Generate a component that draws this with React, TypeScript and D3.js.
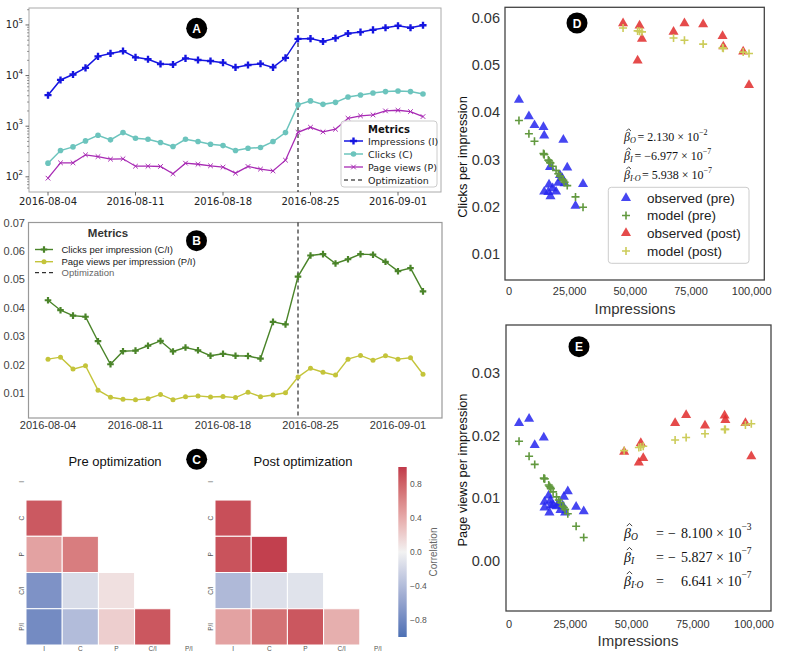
import React from "react";
import * as d3 from "d3";

// ---------------- data ----------------
const dates = [
  "2016-08-04", "2016-08-05", "2016-08-06", "2016-08-07", "2016-08-08", "2016-08-09", "2016-08-10",
  "2016-08-11", "2016-08-12", "2016-08-13", "2016-08-14", "2016-08-15", "2016-08-16", "2016-08-17",
  "2016-08-18", "2016-08-19", "2016-08-20", "2016-08-21", "2016-08-22", "2016-08-23", "2016-08-24",
  "2016-08-25", "2016-08-26", "2016-08-27", "2016-08-28", "2016-08-29", "2016-08-30", "2016-08-31",
  "2016-09-01", "2016-09-02", "2016-09-03",
];
const optimizationDate = "2016-08-24";
const nPre = 20;
const impressions = [4100, 8200, 10500, 14200, 24000, 27400, 30500, 22900, 21000, 16900, 16500, 21900, 20300, 19400, 18000, 14500, 16200, 17100, 14500, 22400, 53000, 53800, 47000, 54800, 67800, 72300, 80000, 88000, 96500, 88300, 98900];
const clicks = [186, 330, 390, 512, 662, 537, 748, 578, 552, 475, 396, 552, 497, 440, 414, 330, 367, 379, 497, 748, 2640, 3160, 2700, 2960, 3780, 4140, 4540, 4820, 4970, 4820, 4330];
const pageViews = [94, 189, 189, 272, 251, 223, 227, 162, 162, 160, 115, 186, 177, 165, 155, 118, 160, 142, 131, 213, 758, 952, 772, 870, 1435, 1600, 1674, 2006, 2065, 1945, 1550];
const ctr = [0.0427, 0.0392, 0.0373, 0.0369, 0.0283, 0.0202, 0.0248, 0.0250, 0.0267, 0.0284, 0.0247, 0.0261, 0.0251, 0.0232, 0.0239, 0.0232, 0.0231, 0.0222, 0.0351, 0.0342, 0.0510, 0.0584, 0.0589, 0.0556, 0.0571, 0.0589, 0.0587, 0.0562, 0.0529, 0.0540, 0.0458];
const pvr = [0.0220, 0.0227, 0.0185, 0.0197, 0.0111, 0.0086, 0.0079, 0.0077, 0.0081, 0.0096, 0.0077, 0.0088, 0.0091, 0.0087, 0.0089, 0.0085, 0.0104, 0.0088, 0.0094, 0.0102, 0.0157, 0.0188, 0.0174, 0.0164, 0.0220, 0.0233, 0.0216, 0.0232, 0.0220, 0.0225, 0.0167];
const ctrModel = [0.0383, 0.0355, 0.0339, 0.0313, 0.0245, 0.0221, 0.0199, 0.0252, 0.0265, 0.0294, 0.0297, 0.0259, 0.0270, 0.0277, 0.0286, 0.0311, 0.0299, 0.0293, 0.0311, 0.0256, 0.0573, 0.0572, 0.0579, 0.0571, 0.0558, 0.0553, 0.0545, 0.0537, 0.0528, 0.0536, 0.0525];
const pvrModel = [0.0191, 0.0167, 0.0154, 0.0132, 0.0075, 0.0055, 0.0037, 0.0082, 0.0093, 0.0117, 0.0119, 0.0087, 0.0097, 0.0102, 0.0110, 0.0131, 0.0121, 0.0115, 0.0131, 0.0085, 0.0181, 0.0182, 0.0176, 0.0183, 0.0193, 0.0197, 0.0203, 0.0210, 0.0217, 0.0210, 0.0219];

const dateTicks = ["2016-08-04", "2016-08-11", "2016-08-18", "2016-08-25", "2016-09-01"];
const logTickExps = [2, 3, 4, 5];
const rateTicksB = [0.01, 0.02, 0.03, 0.04, 0.05, 0.06, 0.07];
const rateTicksD = [0.01, 0.02, 0.03, 0.04, 0.05, 0.06];
const rateTicksE = [0.0, 0.01, 0.02, 0.03];
const impTicks = [0, 25000, 50000, 75000, 100000];
const corrTicks = [0.8, 0.4, 0.0, -0.4, -0.8];

const metricLabels = ["I", "C", "P", "C/I", "P/I"];
const corrPre: (number | null)[][] = [
  [null, null, null, null, null],
  [0.85, null, null, null, null],
  [0.45, 0.66, null, null, null],
  [-0.72, -0.16, 0.1, null, null],
  [-0.78, -0.4, 0.2, 0.86, null],
];
const corrPost: (number | null)[][] = [
  [null, null, null, null, null],
  [0.9, null, null, null, null],
  [0.88, 0.97, null, null, null],
  [-0.42, -0.13, -0.11, null, null],
  [0.45, 0.72, 0.86, 0.38, null],
];

const legendA = ["Impressions (I)", "Clicks (C)", "Page views (P)", "Optimization"];
const legendB = ["Clicks per impression (C/I)", "Page views per impression (P/I)", "Optimization"];
const legendD = ["observed (pre)", "model (pre)", "observed (post)", "model (post)"];
const coefD = [
  { sub: "O", val: "2.130", exp: "−2" },
  { sub: "I", val: "−6.977", exp: "−7" },
  { sub: "I·O", val: "5.938", exp: "−7" },
];
const coefE = [
  { sub: "O", sign: "−", val: "8.100", exp: "−3" },
  { sub: "I", sign: "−", val: "5.827", exp: "−7" },
  { sub: "I·O", sign: "", val: "6.641", exp: "−7" },
];

// ---------------- helpers ----------------
const fSans = "'Liberation Sans', Arial, Helvetica, sans-serif";
const fDV = "'DejaVu Sans', sans-serif";
const fSerif = "'Liberation Serif', 'DejaVu Serif', serif";
const parse = d3.timeParse("%Y-%m-%d");
const dayMs = 864e5;
const dateObjs = dates.map((d) => parse(d) as Date);
const optDate = parse(optimizationDate) as Date;

function timeScale(r0: number, r1: number) {
  return d3
    .scaleTime()
    .domain([
      new Date(dateObjs[0].getTime() - 1.5 * dayMs),
      new Date(dateObjs[dateObjs.length - 1].getTime() + 1.5 * dayMs),
    ])
    .range([r0, r1]);
}

const crossPath = (s: number) => d3.symbol().type(d3.symbolCross).size(s)() as string;
const triPath = (s: number) => d3.symbol().type(d3.symbolTriangle).size(s)() as string;

function Badge({ x, y, label }: { x: number; y: number; label: string }) {
  return (
    <g>
      <circle cx={x} cy={y} r={10.5} fill="#000" />
      <text x={x} y={y + 0.5} fill="#fff" fontFamily={fSans} fontWeight="bold" fontSize={12} textAnchor="middle" dominantBaseline="central">
        {label}
      </text>
    </g>
  );
}

function Plus({ x, y, r, color }: { x: number; y: number; r: number; color: string }) {
  return <path d={`M${x - r},${y}H${x + r}M${x},${y - r}V${y + r}`} stroke={color} strokeWidth={1.6} fill="none" />;
}

function XMark({ x, y, r, color }: { x: number; y: number; r: number; color: string }) {
  return <path d={`M${x - r},${y - r}L${x + r},${y + r}M${x - r},${y + r}L${x + r},${y - r}`} stroke={color} strokeWidth={1} fill="none" />;
}

// beta-hat with subscript; hat drawn as a small chevron
function BetaHat({ x, y, size, sub }: { x: number; y: number; size: number; sub: string }) {
  const k = size / 12;
  return (
    <g>
      <text x={x} y={y} dominantBaseline="central" fontFamily={fSerif} fontSize={size} fill="#111">
        <tspan fontStyle="italic">β</tspan>
        <tspan dy={3 * k} fontSize={size * 0.68} fontStyle="italic">{sub}</tspan>
      </text>
      <path
        d={`M${x + 2.4 * k},${y - 5.9 * k}L${x + 4.7 * k},${y - 8.2 * k}L${x + 7 * k},${y - 5.9 * k}`}
        fill="none"
        stroke="#111"
        strokeWidth={0.8}
      />
    </g>
  );
}

// colours
const cImp = "#1515e0";
const cClk = "#6cc4bd";
const cPV = "#a82ab4";
const cCTR = "#4a8429";
const cPVR = "#c4c43a";
const cBlueTri = "#2626ee";
const cRedTri = "#e12c2c";
const cGreenPlus = "#62993f";
const cYellowPlus = "#cccc5a";

// ---------------- Panel A ----------------
function PanelA() {
  const L = 29, R = 441, T = 8, B = 192;
  const x = timeScale(29.25, 441.75);
  const y = d3.scaleLog().domain([10 ** 1.7, 10 ** 5.335]).range([B, T]);
  const mk = (vals: number[]) =>
    d3.line<number>().x((_, i) => x(dateObjs[i])).y((v) => y(v))(vals) as string;
  const minor: number[] = [];
  for (let e = 1; e <= 5; e++)
    for (let k = 2; k <= 9; k++) {
      const v = k * 10 ** e;
      if (v >= y.domain()[0] && v <= y.domain()[1]) minor.push(v);
    }
  const cp = crossPath(28);
  const lgY = [141, 154, 167, 180];
  return (
    <g fontFamily={fDV}>
      <rect x={L} y={T} width={R - L} height={B - T} fill="none" stroke="#aaa" strokeWidth={1} />
      {minor.map((v) => (
        <line key={v} x1={L} x2={L - 2} y1={y(v)} y2={y(v)} stroke="#555" strokeWidth={0.6} />
      ))}
      {logTickExps.map((e) => (
        <g key={e}>
          <line x1={L} x2={L - 3.5} y1={y(10 ** e)} y2={y(10 ** e)} stroke="#444" strokeWidth={0.8} />
          <text x={23} y={y(10 ** e)} textAnchor="end" dominantBaseline="central" fontSize={10} fill="#222">
            10<tspan dy={-4} fontSize={7}>{e}</tspan>
          </text>
        </g>
      ))}
      {dateTicks.map((d) => {
        const xx = x(parse(d) as Date);
        return (
          <g key={d}>
            <line x1={xx} x2={xx} y1={B} y2={B + 3.5} stroke="#444" strokeWidth={0.8} />
            <text x={xx} y={201} textAnchor="middle" dominantBaseline="central" fontSize={10} fill="#222">
              {d}
            </text>
          </g>
        );
      })}
      <line x1={x(optDate)} x2={x(optDate)} y1={T} y2={B} stroke="#000" strokeWidth={1} strokeDasharray="4 3" />
      <path d={mk(pageViews)} fill="none" stroke={cPV} strokeWidth={1.3} />
      {pageViews.map((v, i) => (
        <XMark key={i} x={x(dateObjs[i])} y={y(v)} r={2.3} color={cPV} />
      ))}
      <path d={mk(clicks)} fill="none" stroke={cClk} strokeWidth={1.5} />
      {clicks.map((v, i) => (
        <circle key={i} cx={x(dateObjs[i])} cy={y(v)} r={2.8} fill={cClk} />
      ))}
      <path d={mk(impressions)} fill="none" stroke={cImp} strokeWidth={1.5} />
      {impressions.map((v, i) => (
        <path key={i} d={cp} transform={`translate(${x(dateObjs[i])},${y(v)})`} fill={cImp} />
      ))}
      {/* legend */}
      <rect x={341} y={121} width={96} height={66} rx={3} fill="#fff" fillOpacity={0.85} stroke="#ccc" />
      <text x={389} y={129} textAnchor="middle" dominantBaseline="central" fontSize={10} fontWeight="bold" fill="#111">
        Metrics
      </text>
      <line x1={344} x2={363} y1={lgY[0]} y2={lgY[0]} stroke={cImp} strokeWidth={1.5} />
      <path d={cp} transform={`translate(353.5,${lgY[0]})`} fill={cImp} />
      <line x1={344} x2={363} y1={lgY[1]} y2={lgY[1]} stroke={cClk} strokeWidth={1.5} />
      <circle cx={353.5} cy={lgY[1]} r={2.8} fill={cClk} />
      <line x1={344} x2={363} y1={lgY[2]} y2={lgY[2]} stroke={cPV} strokeWidth={1.3} />
      <XMark x={353.5} y={lgY[2]} r={2.3} color={cPV} />
      <line x1={344} x2={363} y1={lgY[3]} y2={lgY[3]} stroke="#000" strokeWidth={1} strokeDasharray="4 3" />
      {legendA.map((t, i) => (
        <text key={t} x={368} y={lgY[i]} dominantBaseline="central" fontSize={9.5} fill="#222">
          {t}
        </text>
      ))}
      <Badge x={196.7} y={28.3} label="A" />
    </g>
  );
}

// ---------------- Panel B ----------------
function PanelB() {
  const L = 28.5, R = 442, T = 222.5, B = 418;
  const x = timeScale(29.25, 441.75);
  const y = d3.scaleLinear().domain([0.00133, 0.07]).range([B, T]);
  const mk = (vals: number[]) =>
    d3.line<number>().x((_, i) => x(dateObjs[i])).y((v) => y(v))(vals) as string;
  const cp = crossPath(24);
  const lgY = [249.5, 261.7, 272.7];
  return (
    <g fontFamily={fSans}>
      <rect x={L} y={T} width={R - L} height={B - T} fill="none" stroke="#999" strokeWidth={1.2} />
      {rateTicksB.map((v) => (
        <text key={v} x={25} y={y(v)} textAnchor="end" dominantBaseline="central" fontSize={11} fill="#444">
          {d3.format(".2f")(v)}
        </text>
      ))}
      {dateTicks.map((d) => (
        <text key={d} x={x(parse(d) as Date)} y={425} textAnchor="middle" dominantBaseline="central" fontSize={11} fill="#333">
          {d}
        </text>
      ))}
      <line x1={x(optDate)} x2={x(optDate)} y1={T} y2={B} stroke="#000" strokeWidth={1} strokeDasharray="4 3" />
      <path d={mk(pvr)} fill="none" stroke={cPVR} strokeWidth={1.4} />
      {pvr.map((v, i) => (
        <circle key={i} cx={x(dateObjs[i])} cy={y(v)} r={2.5} fill={cPVR} />
      ))}
      <path d={mk(ctr)} fill="none" stroke={cCTR} strokeWidth={1.4} />
      {ctr.map((v, i) => (
        <path key={i} d={cp} transform={`translate(${x(dateObjs[i])},${y(v)})`} fill={cCTR} />
      ))}
      {/* legend */}
      <text x={108} y={233} textAnchor="middle" dominantBaseline="central" fontSize={11.5} fontWeight="bold" fill="#333">
        Metrics
      </text>
      <line x1={35} x2={53} y1={lgY[0]} y2={lgY[0]} stroke={cCTR} strokeWidth={1.4} />
      <path d={cp} transform={`translate(44,${lgY[0]})`} fill={cCTR} />
      <line x1={35} x2={53} y1={lgY[1]} y2={lgY[1]} stroke={cPVR} strokeWidth={1.4} />
      <circle cx={44} cy={lgY[1]} r={2.5} fill={cPVR} />
      <line x1={35} x2={53} y1={lgY[2]} y2={lgY[2]} stroke="#000" strokeWidth={1} strokeDasharray="4 3" />
      {legendB.map((t, i) => (
        <text key={t} x={61.5} y={lgY[i]} dominantBaseline="central" fontSize={9.5} fill={i === 2 ? "#666" : "#222"}>
          {t}
        </text>
      ))}
      <Badge x={196.5} y={240.7} label="B" />
    </g>
  );
}

// ---------------- Panel C ----------------
const corrColor = d3
  .scaleLinear<string>()
  .domain([-1, 0, 1])
  .range(["#4c70b4", "#f2f2f2", "#c0394a"])
  .interpolate(d3.interpolateLab);

function Heat({ left, data, title, titleX }: { left: number; data: (number | null)[][]; title: string; titleX: number }) {
  const xb = d3.scaleBand<string>().domain(metricLabels).range([left, left + 181]);
  const yb = d3.scaleBand<string>().domain(metricLabels).range([463.8, 645]);
  return (
    <g>
      <text x={titleX} y={461} textAnchor="middle" dominantBaseline="central" fontSize={13} fill="#111">
        {title}
      </text>
      {data.map((row, i) =>
        row.map((v, j) =>
          v === null ? null : (
            <rect
              key={`${i}-${j}`}
              x={xb(metricLabels[j])}
              y={yb(metricLabels[i])}
              width={xb.bandwidth()}
              height={yb.bandwidth()}
              fill={corrColor(v)}
              stroke="#fff"
              strokeWidth={1}
            />
          )
        )
      )}
      {metricLabels.map((m) => (
        <text
          key={"r" + m}
          transform={`translate(${left - 5},${(yb(m) as number) + yb.bandwidth() / 2}) rotate(-90)`}
          textAnchor="middle"
          dominantBaseline="central"
          fontSize={6.5}
          fill="#555"
        >
          {m}
        </text>
      ))}
      {metricLabels.map((m) => (
        <text key={"c" + m} x={(xb(m) as number) + xb.bandwidth() / 2} y={648.5} textAnchor="middle" dominantBaseline="central" fontSize={6.5} fill="#555">
          {m}
        </text>
      ))}
    </g>
  );
}

function PanelC() {
  const cb = d3.scaleLinear().domain([-1, 1]).range([637, 467]);
  const stops = d3.range(0, 1.0001, 0.05);
  return (
    <g fontFamily={fSans}>
      <defs>
        <linearGradient id="cbar" x1="0" y1="1" x2="0" y2="0">
          {stops.map((t) => (
            <stop key={t} offset={t} stopColor={corrColor(-1 + 2 * t)} />
          ))}
        </linearGradient>
      </defs>
      <Heat left={26} data={corrPre} title="Pre  optimization" titleX={115} />
      <Heat left={215} data={corrPost} title="Post optimization" titleX={303} />
      <rect x={398.3} y={cb(1)} width={8.4} height={cb(-1) - cb(1)} fill="url(#cbar)" />
      {corrTicks.map((v) => (
        <text key={v} x={410} y={cb(v)} dominantBaseline="central" fontSize={8.5} fill="#555">
          {v < 0 ? "−" + d3.format(".1f")(-v) : d3.format(".1f")(v)}
        </text>
      ))}
      <text transform={`translate(433,${cb(0)}) rotate(-90)`} textAnchor="middle" dominantBaseline="central" fontSize={10} fill="#666">
        Correlation
      </text>
      <Badge x={196.7} y={459.3} label="C" />
    </g>
  );
}

// ---------------- Panel D ----------------
function PanelD() {
  const L = 505, R = 764.3, T = 7.3, B = 280;
  const x = d3.scaleLinear().domain([-1650, 105200]).range([L, R]);
  const y = d3.scaleLinear().domain([0.00448, 0.0623]).range([B, T]);
  const tp = triPath(44);
  const idx = d3.range(impressions.length);
  const pre = idx.filter((i) => i < nPre);
  const post = idx.filter((i) => i >= nPre);
  const lgY = [198, 215.5, 233, 251];
  const subW: Record<string, number> = { O: 6.5, I: 3.5, "I·O": 11 };
  return (
    <g fontFamily={fSans}>
      <rect x={L} y={T} width={R - L} height={B - T} fill="none" stroke="#444" strokeWidth={1.3} />
      {rateTicksD.map((v) => (
        <text key={v} x={500} y={y(v)} textAnchor="end" dominantBaseline="central" fontSize={14.5} fill="#333">
          {d3.format(".2f")(v)}
        </text>
      ))}
      {impTicks.map((v) => (
        <text key={v} x={x(v)} y={291} textAnchor="middle" dominantBaseline="central" fontSize={11} fill="#333">
          {d3.format(",")(v)}
        </text>
      ))}
      <text x={635} y={308} textAnchor="middle" dominantBaseline="central" fontSize={15} fill="#333">
        Impressions
      </text>
      <text transform={`translate(462,157) rotate(-90)`} textAnchor="middle" dominantBaseline="central" fontSize={12.8} fill="#111">
        Clicks per impression
      </text>
      {pre.map((i) => (
        <path key={"op" + i} d={tp} transform={`translate(${x(impressions[i])},${y(ctr[i])})`} fill={cBlueTri} fillOpacity={0.85} />
      ))}
      {pre.map((i) => (
        <Plus key={"mp" + i} x={x(impressions[i])} y={y(ctrModel[i])} r={4} color={cGreenPlus} />
      ))}
      {post.map((i) => (
        <path key={"oq" + i} d={tp} transform={`translate(${x(impressions[i])},${y(ctr[i])})`} fill={cRedTri} fillOpacity={0.85} />
      ))}
      {post.map((i) => (
        <Plus key={"mq" + i} x={x(impressions[i])} y={y(ctrModel[i])} r={4} color={cYellowPlus} />
      ))}
      {/* coefficients */}
      {coefD.map((c, i) => {
        const yy = 137 + i * 19;
        return (
          <g key={c.sub}>
            <BetaHat x={624} y={yy} size={12} sub={c.sub} />
            <text x={624 + 7 + subW[c.sub]} y={yy} dominantBaseline="central" fontFamily={fSerif} fontSize={12} fill="#111">
              {` = ${c.val} × 10`}
              <tspan dy={-5} fontSize={8}>{c.exp}</tspan>
            </text>
          </g>
        );
      })}
      {/* legend */}
      <rect x={608.3} y={187.3} width={140.7} height={76} rx={3} fill="#fff" stroke="#ccc" />
      <path d={tp} transform={`translate(626,${lgY[0]})`} fill={cBlueTri} fillOpacity={0.85} />
      <Plus x={626} y={lgY[1]} r={4} color={cGreenPlus} />
      <path d={tp} transform={`translate(626,${lgY[2]})`} fill={cRedTri} fillOpacity={0.85} />
      <Plus x={626} y={lgY[3]} r={4} color={cYellowPlus} />
      {legendD.map((t, i) => (
        <text key={t} x={647} y={lgY[i]} dominantBaseline="central" fontSize={13.5} fill="#222">
          {t}
        </text>
      ))}
      <Badge x={577} y={23} label="D" />
    </g>
  );
}

// ---------------- Panel E ----------------
function PanelE() {
  const L = 506, R = 771, T = 325, B = 611;
  const x = d3.scaleLinear().domain([-1224, 106940]).range([L, R]);
  const y = d3.scaleLinear().domain([-0.00805, 0.0377]).range([B, T]);
  const tp = triPath(44);
  const idx = d3.range(impressions.length);
  const pre = idx.filter((i) => i < nPre);
  const post = idx.filter((i) => i >= nPre);
  return (
    <g fontFamily={fSans}>
      <rect x={L} y={T} width={R - L} height={B - T} fill="none" stroke="#444" strokeWidth={1.3} />
      {rateTicksE.map((v) => (
        <text key={v} x={500} y={y(v)} textAnchor="end" dominantBaseline="central" fontSize={14.5} fill="#333">
          {d3.format(".2f")(v)}
        </text>
      ))}
      {impTicks.map((v) => (
        <text key={v} x={x(v)} y={624} textAnchor="middle" dominantBaseline="central" fontSize={11} fill="#333">
          {d3.format(",")(v)}
        </text>
      ))}
      <text x={638} y={640} textAnchor="middle" dominantBaseline="central" fontSize={15} fill="#333">
        Impressions
      </text>
      <text transform={`translate(462,470) rotate(-90)`} textAnchor="middle" dominantBaseline="central" fontSize={12.8} fill="#111">
        Page views per impression
      </text>
      {pre.map((i) => (
        <path key={"op" + i} d={tp} transform={`translate(${x(impressions[i])},${y(pvr[i])})`} fill={cBlueTri} fillOpacity={0.85} />
      ))}
      {pre.map((i) => (
        <Plus key={"mp" + i} x={x(impressions[i])} y={y(pvrModel[i])} r={4} color={cGreenPlus} />
      ))}
      {post.map((i) => (
        <path key={"oq" + i} d={tp} transform={`translate(${x(impressions[i])},${y(pvr[i])})`} fill={cRedTri} fillOpacity={0.85} />
      ))}
      {post.map((i) => (
        <Plus key={"mq" + i} x={x(impressions[i])} y={y(pvrModel[i])} r={4} color={cYellowPlus} />
      ))}
      {coefE.map((c, i) => {
        const yy = 533 + i * 24;
        return (
          <g key={c.sub} fontFamily={fSerif} fontSize={14} fill="#111">
            <BetaHat x={624} y={yy} size={14} sub={c.sub} />
            <text x={660} y={yy} textAnchor="middle" dominantBaseline="central">=</text>
            <text x={668} y={yy} dominantBaseline="central">{c.sign}</text>
            <text x={681} y={yy} dominantBaseline="central">
              {`${c.val} × 10`}
              <tspan dy={-6} fontSize={9.5}>{c.exp}</tspan>
            </text>
          </g>
        );
      })}
      <Badge x={579} y={346.7} label="E" />
    </g>
  );
}

export default function App() {
  return (
    <svg width={794} height={656} style={{ position: "absolute", left: 0, top: 0, display: "block" }}>
      <rect width={794} height={656} fill="#fff" />
      <PanelA />
      <PanelB />
      <PanelC />
      <PanelD />
      <PanelE />
    </svg>
  );
}
